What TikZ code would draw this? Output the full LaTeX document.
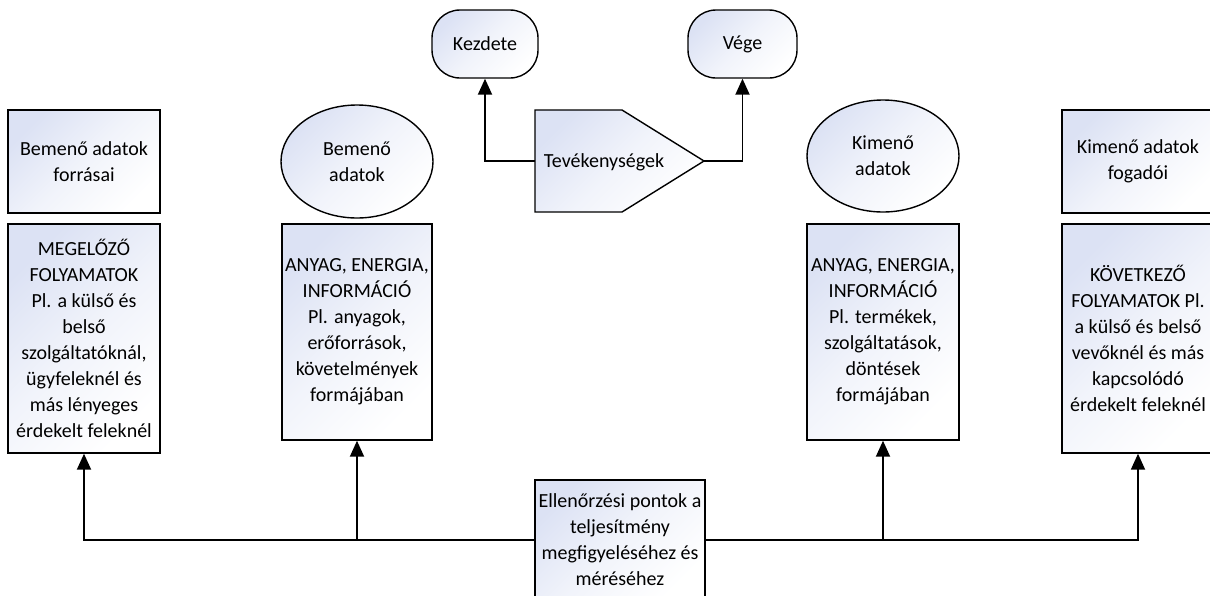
\documentclass[tikz,border=0pt]{standalone}
\usepackage{fontspec}
\setmainfont{Carlito}
\usetikzlibrary{arrows.meta,shapes.geometric}
\definecolor{fillblue}{RGB}{220,226,244}
\tikzset{
  shapefill/.style={top color=fillblue, bottom color=white, middle color=white!60!fillblue, shading angle=45},
  boxshape/.style={draw=black, line width=1.4pt, shapefill, rectangle, inner sep=0pt, align=center,
    font=\fontsize{20}{26}\selectfont},
  ellshape/.style={boxshape, ellipse},
  termshape/.style={boxshape, rounded corners=28pt},
  conn/.style={line width=1.9pt, -{Triangle[length=16pt,width=14pt]}}
}
\begin{document}
\begin{tikzpicture}[x=1pt,y=-1pt]
\useasboundingbox (0,0) rectangle (1210,595);
% left column
\node[boxshape, minimum width=152pt, minimum height=103pt] (src) at (84,161.5) {Bemenő adatok\\forrásai};
\node[boxshape, minimum width=152pt, minimum height=229pt] (box1) at (84,338.5) {MEGELŐZŐ\\FOLYAMATOK\\Pl. a külső és\\belső\\szolgáltatóknál,\\ügyfeleknél és\\más lényeges\\érdekelt feleknél};
% input
\node[ellshape, minimum width=152pt, minimum height=113pt] (inell) at (357,161.5) {Bemenő\\adatok};
\node[boxshape, minimum width=150pt, minimum height=216pt] (box2) at (357,332) {ANYAG, ENERGIA,\\INFORMÁCIÓ\\Pl. anyagok,\\erőforrások,\\követelmények\\formájában};
% activities
\node[termshape, minimum width=106pt, minimum height=68pt] (kezd) at (485,44) {Kezdete};
\node[termshape, minimum width=109pt, minimum height=68pt] (vege) at (742.5,44) {Vége};
\draw[line width=1.4pt, shapefill] (535,110) -- (622,110) -- (704,161) -- (622,212) -- (535,212) -- cycle;
\coordinate (tevL) at (535,161);
\coordinate (tevR) at (704,161);
\node[font=\fontsize{20}{26}\selectfont] (tev) at (604,162) {Tevékenységek};
% output
\node[ellshape, minimum width=152pt, minimum height=112pt] (outell) at (883,156) {Kimenő\\adatok};
\node[boxshape, minimum width=152pt, minimum height=216pt] (box3) at (883,332) {ANYAG, ENERGIA,\\INFORMÁCIÓ\\Pl. termékek,\\szolgáltatások,\\döntések\\formájában};
% right column
\node[boxshape, minimum width=152pt, minimum height=103pt] (dst) at (1138,161.5) {Kimenő adatok\\fogadói};
\node[boxshape, minimum width=152pt, minimum height=229pt] (box4) at (1138,338.5) {KÖVETKEZŐ\\FOLYAMATOK Pl.\\a külső és belső\\vevőknél és más\\kapcsolódó\\érdekelt feleknél};
% control
\node[boxshape, minimum width=170pt, minimum height=120pt] (ell) at (620,540) {Ellenőrzési pontok a\\teljesítmény\\megfigyeléséhez és\\méréséhez};
% connectors
\draw[conn] (tevL) -| (kezd.south);
\draw[conn] (tevR) -| (vege.south);
\draw[conn] (ell.west) -| (box1.south);
\draw[conn] (ell.west) -| (box2.south);
\draw[conn] (ell.east) -| (box3.south);
\draw[conn] (ell.east) -| (box4.south);
\end{tikzpicture}
\end{document}
